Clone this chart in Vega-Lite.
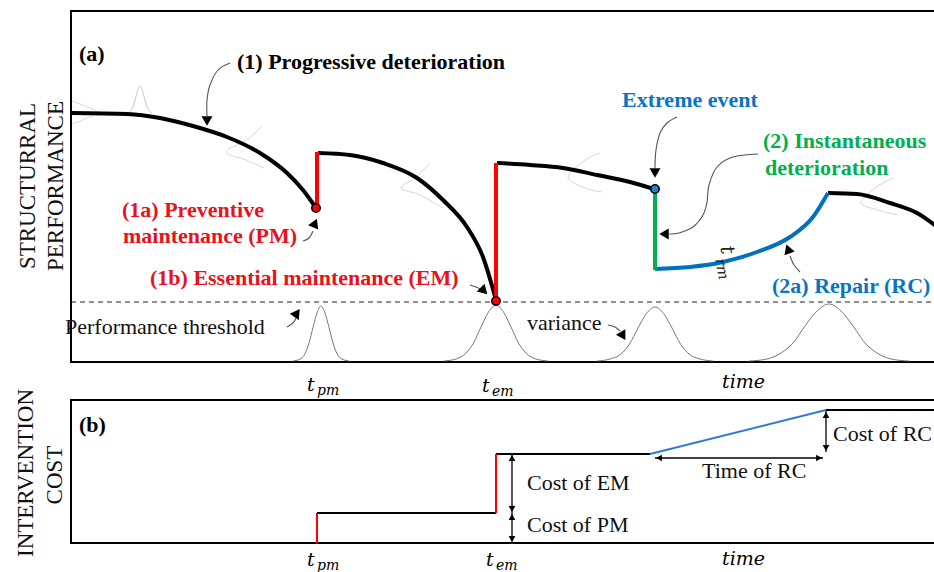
{
  "$schema": "https://vega.github.io/schema/vega-lite/v6.json",
  "width": 934,
  "height": 572,
  "padding": 0,
  "autosize": {"type": "none"},
  "config": {"view": {"stroke": null}},
  "datasets": {
    "frames": [
      {"panel": "a", "t": 71, "t2": 950, "v": 210, "v2": 561},
      {"panel": "b", "t": 71, "t2": 950, "v": 29, "v2": 172}
    ],
    "threshold": [{"t": 71, "t2": 940, "v": 270, "v2": 270}],
    "ghosts": [
      {"s": "g1", "i": 0, "t": 72, "v": 471}, {"s": "g1", "i": 1, "t": 85, "v": 466}, {"s": "g1", "i": 2, "t": 97, "v": 460}, {"s": "g1", "i": 3, "t": 85, "v": 453}, {"s": "g1", "i": 4, "t": 72, "v": 448},
      {"s": "g2", "i": 0, "t": 262, "v": 446}, {"s": "g2", "i": 1, "t": 248, "v": 433}, {"s": "g2", "i": 2, "t": 226, "v": 420}, {"s": "g2", "i": 3, "t": 246, "v": 412}, {"s": "g2", "i": 4, "t": 264, "v": 404},
      {"s": "g3", "i": 0, "t": 430, "v": 409}, {"s": "g3", "i": 1, "t": 415, "v": 394}, {"s": "g3", "i": 2, "t": 401, "v": 384}, {"s": "g3", "i": 3, "t": 420, "v": 377}, {"s": "g3", "i": 4, "t": 443, "v": 364},
      {"s": "g4", "i": 0, "t": 600, "v": 419}, {"s": "g4", "i": 1, "t": 585, "v": 412}, {"s": "g4", "i": 2, "t": 568, "v": 395}, {"s": "g4", "i": 3, "t": 585, "v": 384}, {"s": "g4", "i": 4, "t": 602, "v": 380},
      {"s": "g5", "i": 0, "t": 893, "v": 394}, {"s": "g5", "i": 1, "t": 875, "v": 384}, {"s": "g5", "i": 2, "t": 861, "v": 369}, {"s": "g5", "i": 3, "t": 878, "v": 362}, {"s": "g5", "i": 4, "t": 897, "v": 357}
    ],
    "bells": [
      {"s": "b0", "t": 128, "v": 459}, {"s": "b0", "t": 132, "v": 463}, {"s": "b0", "t": 134, "v": 468}, {"s": "b0", "t": 136, "v": 475.5}, {"s": "b0", "t": 138, "v": 483}, {"s": "b0", "t": 140, "v": 486}, {"s": "b0", "t": 142, "v": 483}, {"s": "b0", "t": 144, "v": 475.5}, {"s": "b0", "t": 146, "v": 468}, {"s": "b0", "t": 148, "v": 463}, {"s": "b0", "t": 152, "v": 459},
      {"s": "b1", "t": 293, "v": 211}, {"s": "b1", "t": 301, "v": 213.4}, {"s": "b1", "t": 305, "v": 218.4}, {"s": "b1", "t": 309, "v": 229}, {"s": "b1", "t": 313, "v": 244.5}, {"s": "b1", "t": 317, "v": 259}, {"s": "b1", "t": 321, "v": 266}, {"s": "b1", "t": 325, "v": 259}, {"s": "b1", "t": 329, "v": 244.5}, {"s": "b1", "t": 333, "v": 229}, {"s": "b1", "t": 337, "v": 218.4}, {"s": "b1", "t": 341, "v": 213.4}, {"s": "b1", "t": 349, "v": 211},
      {"s": "b2", "t": 444, "v": 211}, {"s": "b2", "t": 456, "v": 213}, {"s": "b2", "t": 466, "v": 219}, {"s": "b2", "t": 473.5, "v": 229}, {"s": "b2", "t": 481, "v": 245}, {"s": "b2", "t": 488.5, "v": 260}, {"s": "b2", "t": 496, "v": 267}, {"s": "b2", "t": 503.5, "v": 260}, {"s": "b2", "t": 511, "v": 245}, {"s": "b2", "t": 518.5, "v": 229}, {"s": "b2", "t": 526, "v": 219}, {"s": "b2", "t": 536, "v": 213}, {"s": "b2", "t": 548, "v": 211},
      {"s": "b3", "t": 597, "v": 211}, {"s": "b3", "t": 610, "v": 213}, {"s": "b3", "t": 621, "v": 218}, {"s": "b3", "t": 629.5, "v": 228}, {"s": "b3", "t": 638, "v": 244}, {"s": "b3", "t": 646.5, "v": 258.5}, {"s": "b3", "t": 655, "v": 265}, {"s": "b3", "t": 663.5, "v": 258.5}, {"s": "b3", "t": 672, "v": 244}, {"s": "b3", "t": 680.5, "v": 228}, {"s": "b3", "t": 689, "v": 218}, {"s": "b3", "t": 700, "v": 213}, {"s": "b3", "t": 713, "v": 211},
      {"s": "b4", "t": 749, "v": 211}, {"s": "b4", "t": 767, "v": 213}, {"s": "b4", "t": 781, "v": 219}, {"s": "b4", "t": 793, "v": 229}, {"s": "b4", "t": 805, "v": 246}, {"s": "b4", "t": 817, "v": 261}, {"s": "b4", "t": 829, "v": 268}, {"s": "b4", "t": 841, "v": 261}, {"s": "b4", "t": 853, "v": 246}, {"s": "b4", "t": 865, "v": 229}, {"s": "b4", "t": 877, "v": 219}, {"s": "b4", "t": 891, "v": 213}, {"s": "b4", "t": 909, "v": 211}
    ],
    "perf": [
      {"s": "deterioration 1", "t": 71, "v": 459}, {"s": "deterioration 1", "t": 127, "v": 458}, {"s": "deterioration 1", "t": 160, "v": 454}, {"s": "deterioration 1", "t": 193, "v": 446}, {"s": "deterioration 1", "t": 227, "v": 435}, {"s": "deterioration 1", "t": 260, "v": 419}, {"s": "deterioration 1", "t": 287, "v": 399}, {"s": "deterioration 1", "t": 303, "v": 382}, {"s": "deterioration 1", "t": 316, "v": 364},
      {"s": "deterioration 2", "t": 318, "v": 419}, {"s": "deterioration 2", "t": 350, "v": 417}, {"s": "deterioration 2", "t": 383, "v": 409}, {"s": "deterioration 2", "t": 417, "v": 394}, {"s": "deterioration 2", "t": 443, "v": 372}, {"s": "deterioration 2", "t": 467, "v": 345}, {"s": "deterioration 2", "t": 483, "v": 315}, {"s": "deterioration 2", "t": 496, "v": 272},
      {"s": "deterioration 3", "t": 497, "v": 409}, {"s": "deterioration 3", "t": 530, "v": 407}, {"s": "deterioration 3", "t": 563, "v": 404}, {"s": "deterioration 3", "t": 597, "v": 397}, {"s": "deterioration 3", "t": 630, "v": 390}, {"s": "deterioration 3", "t": 654, "v": 383},
      {"s": "deterioration 4", "t": 828, "v": 379}, {"s": "deterioration 4", "t": 857, "v": 378}, {"s": "deterioration 4", "t": 890, "v": 369}, {"s": "deterioration 4", "t": 917, "v": 359}, {"s": "deterioration 4", "t": 940, "v": 343},
      {"s": "repair", "t": 655, "v": 303}, {"s": "repair", "t": 690, "v": 305}, {"s": "repair", "t": 723, "v": 310}, {"s": "repair", "t": 757, "v": 320}, {"s": "repair", "t": 790, "v": 335}, {"s": "repair", "t": 813, "v": 355}, {"s": "repair", "t": 828, "v": 379},
      {"s": "pm", "t": 317, "v": 364}, {"s": "pm", "t": 317, "v": 420},
      {"s": "em", "t": 496, "v": 272}, {"s": "em", "t": 496, "v": 409},
      {"s": "extreme", "t": 655, "v": 383}, {"s": "extreme", "t": 655, "v": 302}
    ],
    "events": [
      {"s": "pm", "t": 316, "v": 364},
      {"s": "em", "t": 496, "v": 271},
      {"s": "extreme", "t": 655, "v": 383}
    ],
    "cost": [
      {"s": "level pm", "t": 317, "v": 59}, {"s": "level pm", "t": 496, "v": 59},
      {"s": "level em", "t": 496, "v": 118}, {"s": "level em", "t": 650, "v": 118},
      {"s": "level rc", "t": 826, "v": 162}, {"s": "level rc", "t": 950, "v": 162},
      {"s": "pm", "t": 317, "v": 29}, {"s": "pm", "t": 317, "v": 59},
      {"s": "em", "t": 496, "v": 59}, {"s": "em", "t": 496, "v": 118},
      {"s": "repair", "t": 650, "v": 118}, {"s": "repair", "t": 826, "v": 162}
    ],
    "leaders": [
      {"s": "a1", "i": 0, "t": 230, "v": 509}, {"s": "a1", "i": 1, "t": 218, "v": 502}, {"s": "a1", "i": 2, "t": 210, "v": 487}, {"s": "a1", "i": 3, "t": 207, "v": 472}, {"s": "a1", "i": 4, "t": 207, "v": 456},
      {"s": "a2", "i": 0, "t": 677, "v": 455}, {"s": "a2", "i": 1, "t": 667, "v": 449}, {"s": "a2", "i": 2, "t": 660, "v": 439}, {"s": "a2", "i": 3, "t": 656, "v": 422}, {"s": "a2", "i": 4, "t": 655, "v": 404},
      {"s": "a3", "i": 0, "t": 758, "v": 418}, {"s": "a3", "i": 1, "t": 733, "v": 415}, {"s": "a3", "i": 2, "t": 717, "v": 405}, {"s": "a3", "i": 3, "t": 709, "v": 387}, {"s": "a3", "i": 4, "t": 707, "v": 370}, {"s": "a3", "i": 5, "t": 703, "v": 357}, {"s": "a3", "i": 6, "t": 693, "v": 345}, {"s": "a3", "i": 7, "t": 679, "v": 339}, {"s": "a3", "i": 8, "t": 669, "v": 338},
      {"s": "a4", "i": 0, "t": 303, "v": 331}, {"s": "a4", "i": 1, "t": 309, "v": 334}, {"s": "a4", "i": 2, "t": 313, "v": 341},
      {"s": "a5", "i": 0, "t": 470, "v": 287}, {"s": "a5", "i": 1, "t": 476, "v": 285}, {"s": "a5", "i": 2, "t": 480, "v": 283},
      {"s": "a6", "i": 0, "t": 287, "v": 245}, {"s": "a6", "i": 1, "t": 293, "v": 249}, {"s": "a6", "i": 2, "t": 296, "v": 254},
      {"s": "a7", "i": 0, "t": 608, "v": 247}, {"s": "a7", "i": 1, "t": 615, "v": 245}, {"s": "a7", "i": 2, "t": 620, "v": 241},
      {"s": "a8", "i": 0, "t": 800, "v": 300}, {"s": "a8", "i": 1, "t": 794, "v": 307}, {"s": "a8", "i": 2, "t": 790, "v": 316}
    ],
    "heads": [
      {"t": 207, "v": 451, "dir": 180},
      {"t": 655, "v": 399, "dir": 180},
      {"t": 664, "v": 338, "dir": 270},
      {"t": 315, "v": 349, "dir": 23},
      {"t": 484, "v": 281, "dir": 135},
      {"t": 297, "v": 259, "dir": 35},
      {"t": 623, "v": 236, "dir": 150},
      {"t": 788, "v": 323, "dir": -20}
    ],
    "dims": [
      {"t": 512, "t2": 512, "v": 118, "v2": 59},
      {"t": 512, "t2": 512, "v": 59, "v2": 29},
      {"t": 655, "t2": 823, "v": 114, "v2": 114},
      {"t": 826, "t2": 826, "v": 161, "v2": 120}
    ],
    "dimheads": [
      {"t": 512, "v": 114, "dir": 0}, {"t": 512, "v": 63, "dir": 180},
      {"t": 512, "v": 55, "dir": 0}, {"t": 512, "v": 33, "dir": 180},
      {"t": 659, "v": 114, "dir": 270}, {"t": 819, "v": 114, "dir": 90},
      {"t": 826, "v": 157, "dir": 0}, {"t": 826, "v": 124, "dir": 180}
    ],
    "labels": [
      {"label": "(a)", "kind": "black", "t": 79, "v": 511},
      {"label": "(b)", "kind": "black", "t": 79, "v": 140},
      {"label": "(1) Progressive deterioration", "kind": "black", "t": 237, "v": 503},
      {"label": "Extreme event", "kind": "blue", "t": 622, "v": 465},
      {"label": "(2a) Repair (RC)", "kind": "blue", "t": 772, "v": 279},
      {"label": "(2) Instantaneous", "kind": "green", "t": 763, "v": 424},
      {"label": "deterioration", "kind": "green", "t": 765, "v": 397},
      {"label": "(1a) Preventive", "kind": "red", "t": 122, "v": 355},
      {"label": "maintenance (PM)", "kind": "red", "t": 123, "v": 329},
      {"label": "(1b) Essential maintenance (EM)", "kind": "red", "t": 150, "v": 287},
      {"label": "Performance threshold", "kind": "plain", "t": 65, "v": 238},
      {"label": "variance", "kind": "plain", "t": 527, "v": 242},
      {"label": "Cost of EM", "kind": "plain", "t": 527, "v": 82},
      {"label": "Cost of PM", "kind": "plain", "t": 527, "v": 40},
      {"label": "Time of RC", "kind": "plain", "t": 702, "v": 94},
      {"label": "Cost of RC", "kind": "plain", "t": 833, "v": 131},
      {"label": "STRUCTURRAL", "kind": "title", "t": 35, "v": 386},
      {"label": "PERFORMANCE", "kind": "title", "t": 63, "v": 386},
      {"label": "INTERVENTION", "kind": "title", "t": 33, "v": 99},
      {"label": "COST", "kind": "title", "t": 62, "v": 97},
      {"label": "t", "kind": "math", "t": 307, "v": 181},
      {"label": "t", "kind": "math", "t": 482, "v": 180},
      {"label": "time", "kind": "math", "t": 722, "v": 184},
      {"label": "t", "kind": "math", "t": 307, "v": 6},
      {"label": "t", "kind": "math", "t": 486, "v": 6},
      {"label": "time", "kind": "math", "t": 722, "v": 7},
      {"label": "pm", "kind": "sub", "t": 317, "v": 177},
      {"label": "em", "kind": "sub", "t": 492, "v": 176},
      {"label": "pm", "kind": "sub", "t": 317, "v": 2},
      {"label": "em", "kind": "sub", "t": 496, "v": 2},
      {"label": "t", "kind": "rot", "t": 727, "v": 322},
      {"label": "rm", "kind": "rotsub", "t": 722, "v": 303}
    ]
  },
  "encoding": {
    "x": {"field": "t", "type": "quantitative", "scale": {"domain": [0, 934], "nice": false, "zero": false}, "axis": null},
    "y": {"field": "v", "type": "quantitative", "scale": {"domain": [0, 572], "nice": false, "zero": false}, "axis": null}
  },
  "layer": [
    {
      "data": {"name": "frames"},
      "mark": {"type": "rect", "fill": "white", "fillOpacity": 0, "stroke": "black", "strokeWidth": 2},
      "encoding": {"x2": {"field": "t2"}, "y2": {"field": "v2"}}
    },
    {
      "data": {"name": "ghosts"},
      "mark": {"type": "line", "color": "#d6d6d6", "strokeWidth": 1, "interpolate": "cardinal"},
      "encoding": {"detail": {"field": "s"}, "order": {"field": "i"}}
    },
    {
      "data": {"name": "bells"},
      "transform": [{"filter": {"field": "s", "equal": "b0"}}],
      "mark": {"type": "line", "color": "#c8c8c8", "strokeWidth": 1, "interpolate": "monotone"},
      "encoding": {"detail": {"field": "s"}}
    },
    {
      "data": {"name": "bells"},
      "transform": [{"filter": {"field": "s", "oneOf": ["b1", "b2", "b3", "b4"]}}],
      "mark": {"type": "line", "color": "#7a7a7a", "strokeWidth": 1, "interpolate": "monotone"},
      "encoding": {"detail": {"field": "s"}}
    },
    {
      "data": {"name": "threshold"},
      "mark": {"type": "rule", "color": "#222222", "strokeWidth": 1.2, "strokeDash": [5, 4]},
      "encoding": {"x2": {"field": "t2"}, "y2": {"field": "v2"}}
    },
    {
      "data": {"name": "leaders"},
      "mark": {"type": "line", "color": "#555555", "strokeWidth": 1.1, "interpolate": "cardinal"},
      "encoding": {"detail": {"field": "s"}, "order": {"field": "i"}}
    },
    {
      "data": {"name": "heads"},
      "mark": {"type": "point", "shape": "triangle-up", "filled": true, "color": "black", "opacity": 1, "size": 120},
      "encoding": {"angle": {"field": "dir", "type": "quantitative", "scale": null}}
    },
    {
      "data": {"name": "perf"},
      "transform": [{"filter": {"field": "s", "oneOf": ["deterioration 1", "deterioration 2", "deterioration 3", "deterioration 4"]}}],
      "mark": {"type": "line", "color": "black", "strokeWidth": 4, "interpolate": "monotone"},
      "encoding": {"detail": {"field": "s"}}
    },
    {
      "data": {"name": "perf"},
      "transform": [{"filter": {"field": "s", "equal": "repair"}}],
      "mark": {"type": "line", "color": "#0070C0", "strokeWidth": 4, "interpolate": "monotone"},
      "encoding": {"detail": {"field": "s"}}
    },
    {
      "data": {"name": "perf"},
      "transform": [{"filter": {"field": "s", "oneOf": ["pm", "em"]}}],
      "mark": {"type": "line", "color": "#FF0000", "strokeWidth": 4},
      "encoding": {"detail": {"field": "s"}}
    },
    {
      "data": {"name": "perf"},
      "transform": [{"filter": {"field": "s", "equal": "extreme"}}],
      "mark": {"type": "line", "color": "#00B050", "strokeWidth": 4},
      "encoding": {"detail": {"field": "s"}}
    },
    {
      "data": {"name": "events"},
      "mark": {"type": "point", "shape": "circle", "filled": true, "stroke": "black", "strokeWidth": 1.6, "opacity": 1, "size": 70},
      "encoding": {"fill": {"field": "s", "type": "nominal", "scale": {"domain": ["pm", "em", "extreme"], "range": ["#FF0000", "#FF0000", "#2F7FD0"]}, "legend": null}}
    },
    {
      "data": {"name": "cost"},
      "transform": [{"filter": {"field": "s", "oneOf": ["level pm", "level em", "level rc"]}}],
      "mark": {"type": "line", "color": "black", "strokeWidth": 2},
      "encoding": {"detail": {"field": "s"}}
    },
    {
      "data": {"name": "cost"},
      "transform": [{"filter": {"field": "s", "oneOf": ["pm", "em"]}}],
      "mark": {"type": "line", "color": "#FF0000", "strokeWidth": 2},
      "encoding": {"detail": {"field": "s"}}
    },
    {
      "data": {"name": "cost"},
      "transform": [{"filter": {"field": "s", "equal": "repair"}}],
      "mark": {"type": "line", "color": "#2E7BD6", "strokeWidth": 2},
      "encoding": {"detail": {"field": "s"}}
    },
    {
      "data": {"name": "dims"},
      "mark": {"type": "rule", "color": "black", "strokeWidth": 1.3},
      "encoding": {"x2": {"field": "t2"}, "y2": {"field": "v2"}}
    },
    {
      "data": {"name": "dimheads"},
      "mark": {"type": "point", "shape": "triangle-up", "filled": true, "color": "black", "opacity": 1, "size": 45},
      "encoding": {"angle": {"field": "dir", "type": "quantitative", "scale": null}}
    },
    {
      "data": {"name": "labels"},
      "transform": [{"filter": {"field": "kind", "oneOf": ["black", "red", "blue", "green"]}}],
      "mark": {"type": "text", "font": "Liberation Serif", "fontWeight": "bold", "fontSize": 22, "align": "left", "baseline": "alphabetic"},
      "encoding": {
        "text": {"field": "label"},
        "color": {"field": "kind", "type": "nominal", "scale": {"domain": ["black", "red", "blue", "green"], "range": ["#000000", "#E8121A", "#0A74C4", "#00B050"]}, "legend": null}
      }
    },
    {
      "data": {"name": "labels"},
      "transform": [{"filter": {"field": "kind", "equal": "plain"}}],
      "mark": {"type": "text", "font": "Liberation Serif", "fontSize": 22, "align": "left", "baseline": "alphabetic", "color": "#111111"},
      "encoding": {"text": {"field": "label"}}
    },
    {
      "data": {"name": "labels"},
      "transform": [{"filter": {"field": "kind", "equal": "title"}}],
      "mark": {"type": "text", "font": "Liberation Serif", "fontSize": 23, "align": "center", "baseline": "alphabetic", "angle": 270, "color": "#111111"},
      "encoding": {"text": {"field": "label"}}
    },
    {
      "data": {"name": "labels"},
      "transform": [{"filter": {"field": "kind", "equal": "math"}}],
      "mark": {"type": "text", "font": "DejaVu Serif", "fontStyle": "italic", "fontSize": 19, "align": "left", "baseline": "alphabetic", "color": "black"},
      "encoding": {"text": {"field": "label"}}
    },
    {
      "data": {"name": "labels"},
      "transform": [{"filter": {"field": "kind", "equal": "sub"}}],
      "mark": {"type": "text", "font": "DejaVu Serif", "fontStyle": "italic", "fontSize": 14, "align": "left", "baseline": "alphabetic", "color": "black"},
      "encoding": {"text": {"field": "label"}}
    },
    {
      "data": {"name": "labels"},
      "transform": [{"filter": {"field": "kind", "equal": "rot"}}],
      "mark": {"type": "text", "font": "DejaVu Serif", "fontStyle": "italic", "fontSize": 20, "align": "center", "baseline": "middle", "angle": 78, "color": "#222222"},
      "encoding": {"text": {"field": "label"}}
    },
    {
      "data": {"name": "labels"},
      "transform": [{"filter": {"field": "kind", "equal": "rotsub"}}],
      "mark": {"type": "text", "font": "DejaVu Serif", "fontStyle": "italic", "fontSize": 15, "align": "center", "baseline": "middle", "angle": 78, "color": "#222222"},
      "encoding": {"text": {"field": "label"}}
    }
  ]
}
